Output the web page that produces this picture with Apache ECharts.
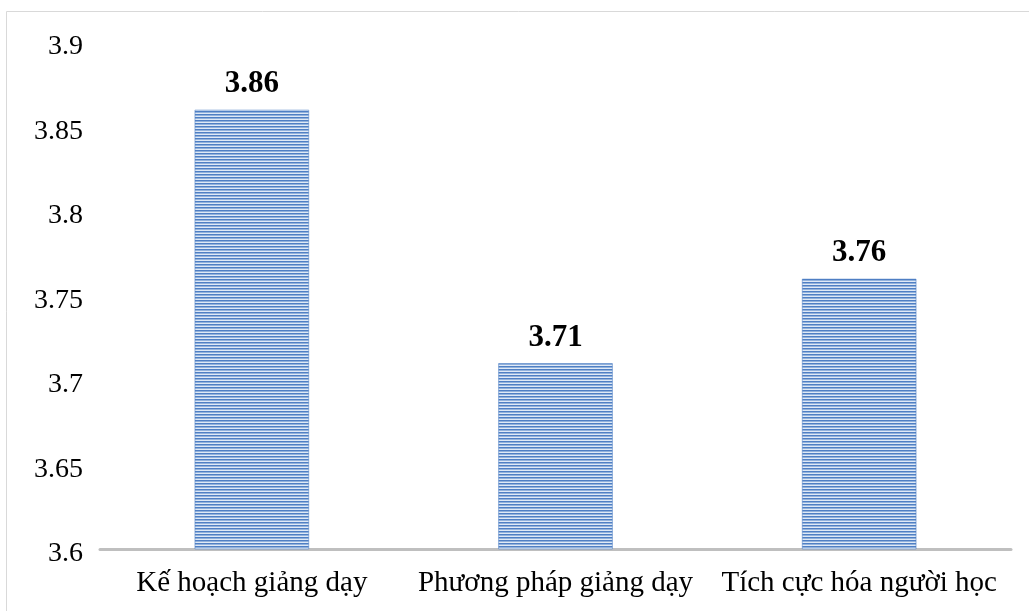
<!DOCTYPE html>
<html>
<head>
<meta charset="utf-8">
<script src="https://cdn.jsdelivr.net/npm/echarts@6/dist/echarts.min.js"></script>
<style>
  html, body { margin: 0; padding: 0; background: #ffffff; }
  #chart { width: 1029px; height: 611px; }
</style>
</head>
<body>
<div id="chart"></div>
<script>
// Chart data
const categories = ['Kế hoạch giảng dạy', 'Phương pháp giảng dạy', 'Tích cực hóa người học'];
const scores = [3.86, 3.71, 3.76];
const yTicks = [3.6, 3.65, 3.7, 3.75, 3.8, 3.85, 3.9];

// Horizontal-stripe fill for the bars
function stripePattern() {
  const c = document.createElement('canvas');
  c.width = 4; c.height = 3;
  const ctx = c.getContext('2d');
  const rows = ['#4f7fc4', '#92b2dc', '#dfe9f6'];
  rows.forEach((col, i) => { ctx.fillStyle = col; ctx.fillRect(0, i, 4, 1); });
  return c;
}

const font = '"Liberation Serif", "Times New Roman", serif';
const chart = echarts.init(document.getElementById('chart'), null, { renderer: 'canvas' });

chart.setOption({
  animation: false,
  backgroundColor: '#ffffff',
  graphic: [{
    type: 'rect',
    shape: { x: 6.5, y: 11.5, width: 1040, height: 620 },
    style: { fill: 'none', stroke: '#d9d9d9', lineWidth: 1 },
    silent: true,
    z: -1
  }],
  grid: { left: 100, right: 18, top: 42, bottom: 62 },
  xAxis: {
    type: 'category',
    data: categories,
    axisLine: { show: true, lineStyle: { color: '#bfbfbf', width: 3 } },
    axisTick: { show: false },
    axisLabel: {
      interval: 0, hideOverlap: false,
      color: '#000', fontFamily: font, fontSize: 29, margin: 20
    }
  },
  yAxis: {
    type: 'value',
    min: yTicks[0],
    max: yTicks[yTicks.length - 1],
    interval: 0.05,
    axisLine: { show: false },
    axisTick: { show: false },
    splitLine: { show: false },
    axisLabel: {
      color: '#000', fontFamily: font, fontSize: 28, margin: 17,
      verticalAlign: 'top', lineHeight: 10,
      formatter: v => String(parseFloat(v.toFixed(2)))
    }
  },
  series: [{
    type: 'bar',
    data: scores,
    barWidth: '37.8%',
    itemStyle: {
      color: { image: stripePattern(), repeat: 'repeat' },
      borderColor: 'rgba(79,127,196,0.55)',
      borderWidth: 1
    },
    label: {
      show: true,
      position: 'top',
      distance: 10,
      color: '#000',
      fontFamily: font,
      fontWeight: 'bold',
      fontSize: 31,
      formatter: p => p.value.toFixed(2)
    }
  }]
});
</script>
</body>
</html>
